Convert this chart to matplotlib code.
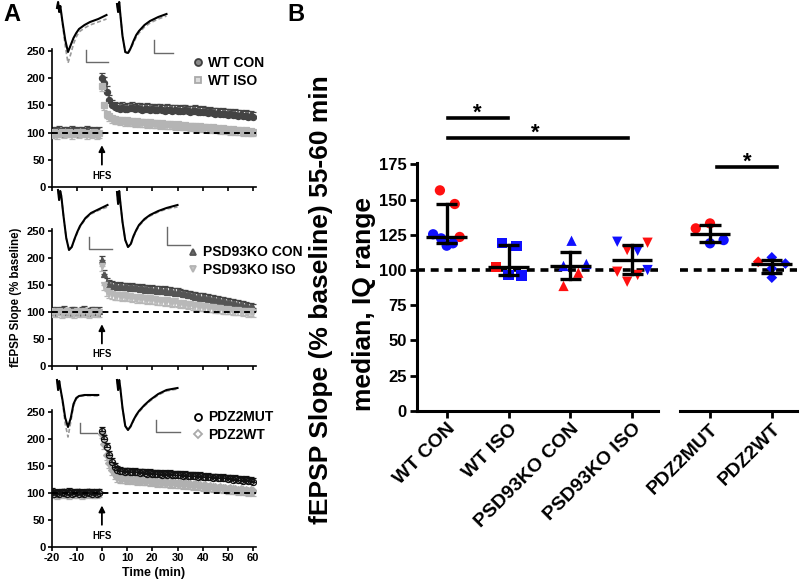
import numpy as np
import matplotlib
matplotlib.use("Agg")
import matplotlib.pyplot as plt
from matplotlib.lines import Line2D

plt.rcParams['font.family'] = ['Liberation Sans', 'DejaVu Sans']
plt.rcParams['font.weight'] = 'bold'
plt.rcParams['axes.labelweight'] = 'bold'

# ---------------- Panel A data ----------------
t_base = np.arange(-20, 0)
t_post = np.arange(0, 61)

wt_con_base = [101, 99, 100, 102, 98, 100, 101, 99, 103, 100, 98, 101, 100, 99, 102, 100, 98, 101, 99, 100]
wt_iso_base = [99, 101, 98, 100, 102, 99, 100, 101, 98, 100, 102, 99, 101, 100, 98, 100, 99, 101, 97, 99]
psd_con_base = [100, 98, 101, 99, 100, 102, 99, 98, 100, 101, 99, 97, 100, 102, 98, 99, 101, 100, 98, 101]
psd_iso_base = [101, 100, 99, 102, 98, 100, 101, 99, 100, 98, 101, 100, 99, 101, 100, 98, 100, 101, 99, 100]
mut_base = [102, 99, 100, 98, 101, 100, 99, 102, 98, 100, 101, 99, 100, 98, 101, 100, 99, 101, 98, 100]
pdzwt_base = [100, 101, 98, 100, 99, 102, 100, 98, 101, 99, 100, 101, 98, 100, 99, 101, 100, 99, 100, 101]

wt_con_post = [200, 192, 175, 160, 150, 147, 145, 144, 146, 143,
               144, 145, 146, 143, 145, 144, 142, 143, 144, 142,
               143, 141, 142, 143, 141, 140, 142, 141, 140, 141,
               140, 139, 140, 141, 139, 138, 139, 140, 138, 137,
               138, 137, 136, 137, 136, 135, 136, 134, 135, 134,
               133, 134, 132, 133, 131, 132, 130, 131, 129, 130,
               128]
wt_iso_post = [185, 150, 135, 130, 127, 125, 124, 123, 124, 122,
               123, 121, 122, 120, 121, 120, 119, 120, 118, 119,
               118, 117, 118, 116, 117, 116, 115, 116, 115, 114,
               115, 114, 113, 114, 113, 112, 113, 112, 111, 112,
               111, 110, 111, 109, 110, 108, 109, 107, 108, 106,
               107, 105, 106, 104, 105, 104, 103, 104, 102, 103,
               102]
psd_con_post = [195, 170, 155, 150, 148, 147, 146, 147, 145, 146,
                145, 144, 145, 143, 144, 142, 143, 141, 142, 140,
                141, 140, 139, 140, 138, 139, 137, 138, 136, 135,
                136, 134, 133, 132, 131, 130, 129, 128, 127, 126,
                126, 125, 124, 123, 122, 121, 121, 120, 119, 118,
                117, 116, 115, 114, 113, 112, 111, 110, 109, 108,
                107]
psd_iso_post = [185, 150, 138, 134, 132, 131, 130, 131, 129, 130,
                128, 129, 127, 128, 126, 127, 125, 126, 124, 125,
                123, 124, 122, 121, 122, 120, 121, 119, 118, 119,
                117, 116, 117, 115, 114, 115, 113, 112, 113, 111,
                110, 111, 109, 108, 109, 107, 106, 107, 105, 104,
                105, 104, 103, 102, 103, 102, 101, 102, 100, 101,
                100]
mut_post = [215, 200, 185, 170, 158, 148, 143, 141, 140, 139,
            140, 139, 138, 139, 138, 137, 138, 137, 136, 137,
            136, 135, 136, 135, 134, 135, 134, 135, 133, 134,
            133, 134, 132, 133, 132, 131, 132, 131, 130, 131,
            130, 129, 130, 129, 128, 129, 128, 127, 128, 127,
            126, 127, 125, 126, 124, 125, 123, 124, 122, 123,
            121]
pdzwt_post = [210, 190, 170, 155, 143, 135, 130, 128, 127, 128,
              126, 127, 125, 126, 124, 125, 124, 123, 124, 122,
              123, 122, 121, 122, 120, 121, 120, 119, 120, 118,
              119, 118, 117, 118, 116, 117, 115, 116, 114, 115,
              113, 114, 112, 113, 111, 112, 110, 111, 109, 110,
              108, 109, 107, 108, 106, 107, 105, 106, 104, 105,
              104]

sem_wt_con, sem_wt_iso = 10, 9
sem_psd_con, sem_psd_iso = 8, 9
sem_mut, sem_pdzwt = 7, 9

# Example fEPSP traces (ms, mV)
trace_t = [0, 0.2, 0.4, 0.6, 1.0, 1.5, 2.0, 2.5, 3.0, 3.5, 4.0, 5.0, 6.0, 7.5, 9.0, 11.0]
tr1a_k = [0.0, 0.3, -0.2, 0.1, -0.7, -1.6, -2.2, -1.85, -1.5, -1.25, -1.05, -0.85, -0.7, -0.55, -0.35]
tr1a_g = [0.0, 0.3, -0.2, 0.1, -0.8, -1.9, -2.75, -2.3, -1.8, -1.45, -1.2, -1.0, -0.85, -0.7, -0.55]
tr1b_k = [0.2, -0.2, 0.3, -0.3, -1.4, -2.2, -2.25, -2.0, -1.65, -1.35, -1.15, -0.85, -0.65, -0.45, -0.3]
tr1b_g = [0.2, -0.2, 0.3, -0.3, -1.4, -2.2, -2.3, -2.05, -1.75, -1.45, -1.25, -0.95, -0.75, -0.55, -0.4]
tr2a_k = [0.4, -0.1, 0.35, 0.1, -0.9, -2.0, -2.6, -2.45, -2.05, -1.7, -1.4, -1.0, -0.75, -0.55, -0.35]
tr2a_g = [0.4, -0.1, 0.35, 0.1, -0.9, -2.0, -2.55, -2.45, -2.1, -1.75, -1.45, -1.05, -0.8, -0.6, -0.45]
tr2b_k = [0.3, -0.3, 0.35, -0.2, -1.2, -2.1, -2.45, -2.3, -1.9, -1.6, -1.35, -1.05, -0.85, -0.65, -0.5, -0.35]
tr2b_g = [0.3, -0.3, 0.35, -0.2, -1.2, -2.1, -2.45, -2.35, -1.95, -1.65, -1.4, -1.1, -0.9, -0.7, -0.55, -0.45]
tr3a_k = [0.4, -0.1, 0.35, 0.0, -0.6, -1.5, -1.95, -1.5, -0.8, -0.5, -0.4, -0.35, -0.35, -0.35]
tr3a_g = [0.4, -0.1, 0.35, 0.0, -0.7, -1.8, -2.45, -1.7, -0.9, -0.55, -0.42, -0.38, -0.38, -0.4]
tr3b_k = [0.4, -0.1, 0.4, 0.0, -1.0, -1.9, -2.1, -1.9, -1.6, -1.35, -1.15, -0.85, -0.6, -0.3, -0.1, 0.0]
tr3b_g = [0.4, -0.1, 0.4, 0.0, -1.0, -1.9, -2.1, -1.95, -1.65, -1.4, -1.2, -0.9, -0.65, -0.35, -0.15, -0.05]

# ---------------- Panel B data ----------------
groups1 = ['WT CON', 'WT ISO', 'PSD93KO CON', 'PSD93KO ISO']
groups2 = ['PDZ2MUT', 'PDZ2WT']
b_wt_con = [156.5, 146.8, 123.4, 125.3, 122.4, 117.2, 118.9]
c_wt_con = ['r', 'r', 'r', 'b', 'b', 'b', 'b']
j_wt_con = [-0.11, 0.13, 0.21, -0.22, -0.09, 0.0, 0.1]
b_wt_iso = [118.9, 117.0, 102.0, 96.4, 96.0]
c_wt_iso = ['b', 'b', 'r', 'b', 'b']
j_wt_iso = [-0.11, 0.13, -0.2, 0.0, 0.21]
b_psd_con = [120.7, 102.8, 104.2, 98.0, 88.6]
c_psd_con = ['b', 'b', 'b', 'r', 'r']
j_psd_con = [0.02, -0.11, 0.26, 0.13, -0.11]
b_psd_iso = [120.0, 119.3, 114.1, 113.6, 98.7, 91.6, 96.4, 99.9]
c_psd_iso = ['b', 'r', 'r', 'b', 'r', 'r', 'r', 'b']
j_psd_iso = [-0.24, 0.25, -0.08, 0.09, -0.24, -0.08, 0.09, 0.25]
b_mut = [129.5, 133.0, 118.9, 121.2]
c_mut = ['r', 'r', 'b', 'b']
j_mut = [-0.23, 0.0, 0.0, 0.22]
b_pdzwt = [105.8, 108.9, 104.5, 94.5, 101.0]
c_pdzwt = ['r', 'b', 'b', 'b', 'b']
j_pdzwt = [-0.22, 0.0, 0.22, 0.0, 0.0]

RED = '#ff1010'
BLUE = '#1010ff'
cmap = {'r': RED, 'b': BLUE}

W, H = 800, 587
fig = plt.figure(figsize=(8.0, 5.87), dpi=100)


def px_rect(left, top, width, height):
    return [left / W, 1 - (top + height) / H, width / W, height / H]


TICK = 8
a_axes = []
for (y0px, y250px) in [(187, 51), (365.7, 230.7), (547, 412)]:
    ppu = (y0px - y250px) / 250.0
    h = 253 * ppu
    ax = fig.add_axes(px_rect(51.5, y0px - h, 2.52 * 81, h))
    ax.set_xlim(-20, 61)
    ax.set_ylim(0, 253)
    ax.set_xticks(np.arange(-20, 61, 10))
    ax.set_yticks(np.arange(0, 251, 50))
    for s in ['top', 'right']:
        ax.spines[s].set_visible(False)
    for s in ['left', 'bottom']:
        ax.spines[s].set_linewidth(1.2)
    ax.tick_params(labelsize=TICK, width=1.2, length=3, pad=1.5)
    for lab in ax.get_yticklabels():
        lab.set_fontweight('bold')
    ax.axhline(100, color='black', ls=(0, (3, 2.2)), lw=1.4, zorder=5)
    ax.annotate('', xy=(0, 82), xytext=(0, 36),
                arrowprops=dict(arrowstyle='-|>', color='black', lw=1.3,
                                mutation_scale=9))
    ax.text(0, 21, 'HFS', ha='center', va='center', fontsize=7, fontweight='bold')
    a_axes.append(ax)

for ax in a_axes[:2]:
    ax.set_xticklabels([])
a_axes[2].set_xticklabels([str(v) for v in range(-20, 61, 10)], fontweight='bold')
a_axes[2].set_xlabel('Time (min)', fontsize=9, fontweight='bold', labelpad=3)
a_axes[1].set_ylabel('fEPSP Slope (% baseline)', fontsize=8.3, fontweight='bold', labelpad=3)


def series(ax, base, post, sem, marker, color, ecolor, up, mfc=None, ms=4.4, z=2):
    t = np.concatenate([t_base, t_post])
    y = np.array(base + post, dtype=float)
    n = len(y)
    err = np.full(n, float(sem))
    zero = np.zeros(n)
    yerr = [zero, err] if up else [err, zero]
    ax.errorbar(t, y, yerr=yerr, fmt=marker, ms=ms, color=color, ecolor=ecolor,
                mfc=color if mfc is None else mfc, mec=color, mew=0.9,
                elinewidth=1.1, capsize=2.0, capthick=1.1, zorder=z)


series(a_axes[0], wt_con_base, wt_con_post, sem_wt_con, 'o', '#444444', '#444444', True, z=2)
series(a_axes[0], wt_iso_base, wt_iso_post, sem_wt_iso, 's', '#b4b4b4', '#b4b4b4', False, z=3)
series(a_axes[1], psd_con_base, psd_con_post, sem_psd_con, '^', '#555555', '#444444', True, z=2)
series(a_axes[1], psd_iso_base, psd_iso_post, sem_psd_iso, 'v', '#b8b8b8', '#b8b8b8', False, z=3)
series(a_axes[2], mut_base, mut_post, sem_mut, 'o', '#111111', '#111111', True, mfc='none', z=3)
series(a_axes[2], pdzwt_base, pdzwt_post, sem_pdzwt, 'D', '#b0b0b0', '#b0b0b0', False, ms=3.8, z=2)

legend_specs = [
    (a_axes[0], (0.69, 0.95), [('o', '#8a8a8a', '#3f3f3f', 'WT CON'), ('s', '#dcdcdc', '#aaaaaa', 'WT ISO')]),
    (a_axes[1], (0.665, 0.88), [('^', '#6a6a6a', '#555555', 'PSD93KO CON'), ('v', '#c4c4c4', '#b4b4b4', 'PSD93KO ISO')]),
    (a_axes[2], (0.69, 1.0), [('o', 'white', 'black', 'PDZ2MUT'), ('D', 'white', '#aaaaaa', 'PDZ2WT')]),
]
for ax, anchor, items in legend_specs:
    handles = [Line2D([], [], ls='none', marker=m, mfc=fc, mec=ec, mew=1.3,
                      ms=5 if m != 'D' else 4.3) for m, fc, ec, _ in items]
    labels = [lab for *_, lab in items]
    ax.legend(handles, labels, loc='upper left', bbox_to_anchor=anchor, frameon=False,
              prop={'size': 10, 'weight': 'bold'}, handlelength=0.8, handletextpad=0.35,
              labelspacing=0.25, borderpad=0, borderaxespad=0)

# inset traces
PX_MS, PX_MV = 5.5, 20.0
XL, YL = (-0.4, 14.0), (-3.0, 0.5)
inset_specs = [
    (57, 0, tr1a_k, tr1a_g, (5.3, -2.7, 4.0, 0.6)),
    (117, 0, tr1b_k, tr1b_g, (6.7, -2.25, 3.5, 0.65)),
    (58, 190, tr2a_k, tr2a_g, (5.6, -2.55, 4.2, 0.6)),
    (117, 190, tr2b_k, tr2b_g, (9.1, -2.35, 4.2, 0.9)),
    (57, 380, tr3a_k, tr3a_g, (4.2, -2.25, 3.1, 0.5)),
    (117, 380, tr3b_k, tr3b_g, (7.1, -2.2, 4.4, 0.6)),
]
for xs, ytop, tk, tg, (sx, sy, sw, sh) in inset_specs:
    w = (XL[1] - XL[0]) * PX_MS
    h = (YL[1] - YL[0]) * PX_MV
    left = xs + XL[0] * PX_MS
    top = ytop - (YL[1] - 0.4) * PX_MV
    iax = fig.add_axes(px_rect(left, top, w, h))
    iax.set_xlim(*XL)
    iax.set_ylim(*YL)
    iax.axis('off')
    iax.patch.set_alpha(0)
    iax.plot(trace_t[:len(tg)], tg, color='#9a9a9a', lw=1.2, ls=(0, (2.5, 1.5)))
    iax.plot(trace_t[:len(tk)], tk, color='black', lw=1.5)
    iax.plot([sx, sx, sx + sw], [sy + sh, sy, sy], color='#6a6a6a', lw=1.0)

# ---------------- Panel B ----------------
PPU = 61.8
bax1 = fig.add_axes(px_rect(416.7, 410.7 - 176 * 1.408, 241.3, 176 * 1.408))
bax2 = fig.add_axes(px_rect(680, 410.7 - 176 * 1.408, 117, 176 * 1.408))
bax1.set_xlim(-30 / PPU, 241.3 / PPU - 30 / PPU)
bax2.set_xlim(-30 / PPU, 117 / PPU - 30 / PPU)
for bx in (bax1, bax2):
    bx.set_ylim(0, 176)
    for s in ['top', 'right']:
        bx.spines[s].set_visible(False)
    bx.spines['bottom'].set_linewidth(2.2)
    bx.spines['left'].set_linewidth(2.2)
    bx.tick_params(width=2, length=5, labelsize=12, pad=2)
    bx.axhline(100, color='black', ls=(0, (2.2, 1.6)), lw=2.6, zorder=1)
bax2.spines['left'].set_visible(False)
bax2.tick_params(axis='y', left=False, labelleft=False)
bax1.set_yticks(np.arange(0, 176, 25))
bax1.set_yticklabels([str(v) for v in range(0, 176, 25)], fontweight='bold')
bax1.set_xticks(range(len(groups1)))
bax1.set_xticklabels(groups1, rotation=45, ha='right', rotation_mode='anchor',
                     fontsize=14, fontweight='bold')
bax2.set_xticks(range(len(groups2)))
bax2.set_xticklabels(groups2, rotation=45, ha='right', rotation_mode='anchor',
                     fontsize=14, fontweight='bold')

b_sets = [
    (bax1, 0, b_wt_con, c_wt_con, j_wt_con, 'o', 55),
    (bax1, 1, b_wt_iso, c_wt_iso, j_wt_iso, 's', 55),
    (bax1, 2, b_psd_con, c_psd_con, j_psd_con, '^', 55),
    (bax1, 3, b_psd_iso, c_psd_iso, j_psd_iso, 'v', 55),
    (bax2, 0, b_mut, c_mut, j_mut, 'o', 55),
    (bax2, 1, b_pdzwt, c_pdzwt, j_pdzwt, 'D', 30),
]
for bx, pos, vals, cols, jit, mk, sz in b_sets:
    xs = [pos + j for j in jit]
    bx.scatter(xs, vals, marker=mk, s=sz, c=[cmap[c] for c in cols],
               edgecolors='none', zorder=3)
    med = np.median(vals)
    q1, q3 = np.percentile(vals, [25, 75], method='weibull')
    bx.plot([pos - 0.33, pos + 0.33], [med, med], color='black', lw=2.4, zorder=4,
            solid_capstyle='butt')
    bx.plot([pos - 0.17, pos + 0.17], [q1, q1], color='black', lw=2.4, zorder=4,
            solid_capstyle='butt')
    bx.plot([pos - 0.17, pos + 0.17], [q3, q3], color='black', lw=2.4, zorder=4,
            solid_capstyle='butt')
    bx.plot([pos, pos], [q1, q3], color='black', lw=2.4, zorder=4)

# significance bars
STAR = dict(ha='center', va='bottom', fontsize=16, fontweight='bold', clip_on=False)
bax1.plot([0.02, 0.99], [208, 208], color='black', lw=2.6, clip_on=False)
bax1.text(0.5, 208 - 4, '*', **STAR)
bax1.plot([0.02, 2.93], [193.7, 193.7], color='black', lw=2.6, clip_on=False)
bax1.text(1.43, 193.7 - 4, '*', **STAR)
bax2.plot([0.11, 1.09], [173.3, 173.3], color='black', lw=2.6, clip_on=False)
bax2.text(0.6, 173.3 - 4, '*', **STAR)

fig.text(321 / W, 1 - 300 / H, 'fEPSP Slope (% baseline) 55-60 min', rotation=90,
         ha='center', va='center', fontsize=19, fontweight='bold')
fig.text(364 / W, 1 - 304 / H, 'median, IQ range', rotation=90,
         ha='center', va='center', fontsize=19, fontweight='bold')

fig.text(3 / W, 1 - 3 / H, 'A', ha='left', va='top', fontsize=17, fontweight='bold')
fig.text(287 / W, 1 - 3 / H, 'B', ha='left', va='top', fontsize=17, fontweight='bold')

fig.savefig('out.png', dpi=100)
